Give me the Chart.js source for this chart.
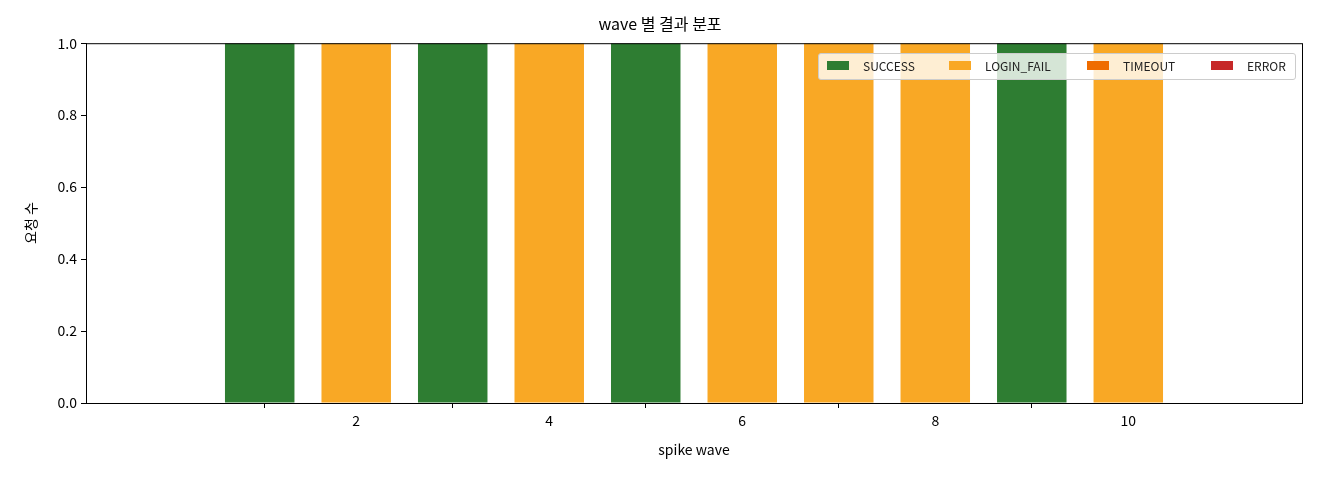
<!DOCTYPE html>
<html>
<head>
<meta charset="utf-8">
<script src="https://cdn.jsdelivr.net/npm/chart.js@4/dist/chart.umd.min.js"></script>
<style>
  body { margin: 0; background: #fff; }
  #wrap { position: relative; width: 1320px; height: 480px; }
  #legend {
    position: absolute; left: 818px; top: 53px; width: 476px; height: 25px;
    background: rgba(255,255,255,0.8); border: 1px solid #ccc; border-radius: 3px;
    font-family: "Noto Sans CJK KR", sans-serif; font-size: 12px; color: #222;
  }
  .item { position: absolute; top: 4px; line-height: 15px; }
  .patch { position: absolute; width: 22px; height: 9px; }
</style>
</head>
<body>
<div id="wrap">
  <canvas id="c" width="1320" height="480"></canvas>
  <div id="legend"></div>
</div>
<script>
const waves = [1, 2, 3, 4, 5, 6, 7, 8, 9, 10];
const sukses = [1, 0, 1, 0, 1, 0, 0, 0, 1, 0];
const loginGagal = [0, 1, 0, 1, 0, 1, 1, 1, 0, 1];
const timeout = [0, 0, 0, 0, 0, 0, 0, 0, 0, 0];
const error = [0, 0, 0, 0, 0, 0, 0, 0, 0, 0];
const labelSeri = ['SUCCESS', 'LOGIN_FAIL', 'TIMEOUT', 'ERROR'];
const warna = ['#2e7d32', '#f9a825', '#ef6c00', '#c62828'];

const semuaSeri = [sukses, loginGagal, timeout, error];
const datasets = semuaSeri.map((seri, i) => ({
  label: labelSeri[i],
  data: seri.map((v, j) => ({ x: waves[j], y: v })),
  backgroundColor: warna[i],
  barPercentage: 0.8,
  categoryPercentage: 1.0
}));

// Legenda HTML di pojok kanan atas
const posisiLegenda = [8, 130, 268, 392];
const legenda = document.getElementById('legend');
labelSeri.forEach((nama, i) => {
  legenda.innerHTML += `<div class="patch" style="left:${posisiLegenda[i]}px;top:7px;background:${warna[i]}"></div>
    <div class="item" style="left:${posisiLegenda[i] + 36}px">${nama}</div>`;
});

const bingkai = {
  id: 'bingkai',
  afterDraw(chart) {
    const a = chart.chartArea, ctx = chart.ctx;
    ctx.save();
    ctx.strokeStyle = '#000';
    ctx.lineWidth = 1;
    ctx.strokeRect(a.left + 0.5, a.top + 0.5, a.right - a.left, a.bottom - a.top);
    ctx.restore();
  }
};

const genap = v => Math.abs(v - Math.round(v)) < 1e-9 && Math.round(v) % 2 === 0;
const fontTick = { family: 'Noto Sans CJK KR', size: 14 };
new Chart(document.getElementById('c'), {
  type: 'bar',
  data: { datasets },
  plugins: [bingkai],
  options: {
    responsive: false,
    animation: false,
    layout: { padding: { left: 18, right: 18, top: 0, bottom: 18 } },
    plugins: {
      legend: { display: false },
      tooltip: { enabled: false },
      title: {
        display: true, text: 'wave 별 결과 분포', color: '#000',
        font: { family: 'Noto Sans CJK KR', size: 16, weight: 'normal' },
        padding: { top: 14, bottom: 10 }
      }
    },
    scales: {
      x: {
        type: 'linear', stacked: true, min: 0.1, max: 10.9,
        afterFit(s) { s.height = 59; },
        grid: {
          drawOnChartArea: false, drawTicks: true, tickLength: 5,
          tickColor: c => (c.tick && genap(c.tick.value)) ? '#000' : 'rgba(0,0,0,0)'
        },
        border: { display: true, color: '#000' },
        ticks: { color: '#000', font: fontTick, padding: 4, stepSize: 2,
          callback: v => genap(v) ? String(Math.round(v)) : '' },
        title: { display: true, text: 'spike wave', color: '#000',
          font: { family: 'Noto Sans CJK KR', size: 14 }, padding: { top: 2 } }
      },
      y: {
        stacked: true, min: 0, max: 1,
        afterFit(s) { s.width = 68; },
        grid: { drawOnChartArea: false, drawTicks: true, tickLength: 5, color: '#000' },
        border: { display: true, color: '#000' },
        ticks: { color: '#000', font: fontTick, padding: 4, stepSize: 0.2, callback: v => v.toFixed(1) },
        title: { display: true, text: '요청 수', color: '#000',
          font: { family: 'Noto Sans CJK KR', size: 14 }, padding: { bottom: 4 } }
      }
    }
  }
});
</script>
</body>
</html>
